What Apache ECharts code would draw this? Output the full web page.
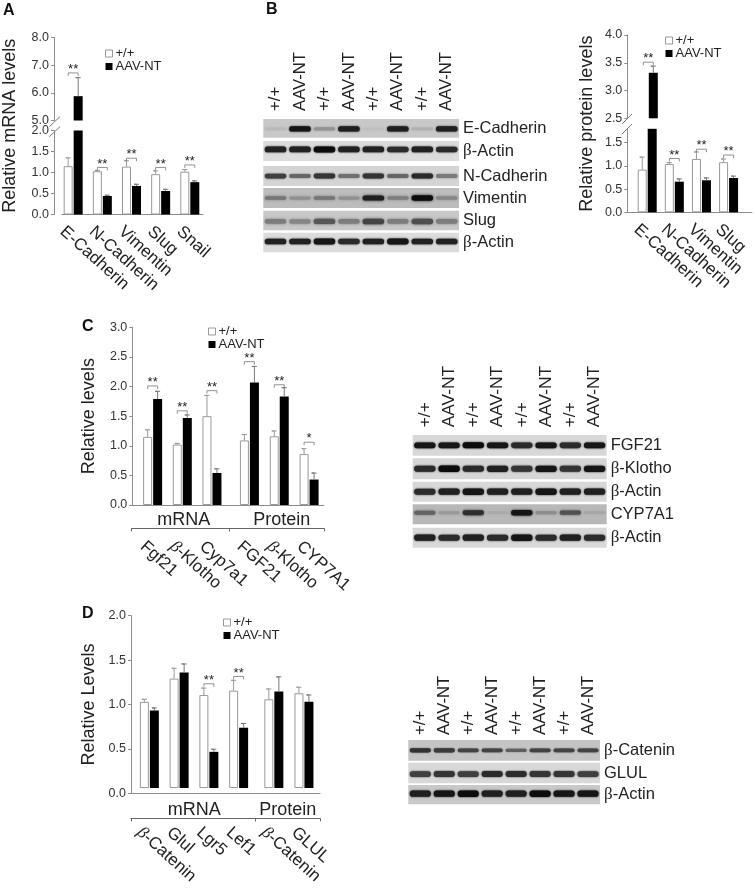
<!DOCTYPE html>
<html>
<head>
<meta charset="utf-8">
<title>Panels A-D</title>
<style>
  html, body { margin: 0; padding: 0; background: #fff; }
  #main { width: 755px; height: 892px; }
</style>
<script src="https://cdn.jsdelivr.net/npm/echarts@6/dist/echarts.min.js"></script>
</head>
<body>
<div id="main"></div>
<script>
// panel A
var catsA = ['E-Cadherin', 'N-Cadherin', 'Vimentin', 'Slug', 'Snail']
var whiteA = [1.15, 1.03, 1.14, 0.96, 1.02]
var whiteErrA = [0.20, 0.02, 0.14, 0.08, 0.05]
var blackA = [5.88, 0.44, 0.68, 0.56, 0.77]
var blackErrA = [0.67, 0.02, 0.04, 0.04, 0.03]
var sigA = ['**', '**', '**', '**', '**']
var sigYA = [6.72, 1.12, 1.34, 1.12, 1.18]
var ticksALow = [0, 0.5, 1, 1.5, 2]
var ticksAHigh = [5, 6, 7, 8]

// panel B, bars
var catsB = ['E-Cadherin', 'N-Cadherin', 'Vimentin', 'Slug']
var whiteB = [0.92, 1.04, 1.15, 1.08]
var whiteErrB = [0.27, 0.03, 0.15, 0.07]
var blackB = [3.32, 0.66, 0.69, 0.74]
var blackErrB = [0.12, 0.06, 0.05, 0.04]
var sigB = ['**', '**', '**', '**']
var sigYB = [3.51, 1.16, 1.36, 1.235]
var ticksBLow = [0, 0.5, 1, 1.5]
var ticksBHigh = [2.5, 3, 3.5, 4]

// panel C
var catsCm = ['Fgf21', 'β-Klotho', 'Cyp7a1']
var catsCp = ['FGF21', 'β-Klotho', 'CYP7A1']
var whiteCm = [1.15, 1.02, 1.50]
var whiteErrCm = [0.12, 0.02, 0.35]
var blackCm = [1.79, 1.47, 0.54]
var blackErrCm = [0.13, 0.05, 0.07]
var sigCm = ['**', '**', '**']
var sigYCm = [2.01, 1.59, 1.93]
var whiteCp = [1.09, 1.16, 0.86]
var whiteErrCp = [0.10, 0.09, 0.09]
var blackCp = [2.07, 1.83, 0.43]
var blackErrCp = [0.27, 0.15, 0.11]
var sigCp = ['**', '**', '*']
var sigYCp = [2.42, 2.03, 1.06]
var ticksC = [0, 0.5, 1, 1.5, 2, 2.5, 3]

// panel D
var catsDm = ['β-Catenin', 'Glul', 'Lgr5', 'Lef1']
var catsDp = ['β-Catenin', 'GLUL']
var whiteDm = [1.00, 1.27, 1.08, 1.13]
var whiteErrDm = [0.03, 0.12, 0.08, 0.12]
var blackDm = [0.90, 1.34, 0.42, 0.70]
var blackErrDm = [0.03, 0.10, 0.03, 0.05]
var sigDm = ['', '', '**', '**']
var sigYDm = [null, null, 1.21, 1.295]
var whiteDp = [1.03, 1.10]
var whiteErrDp = [0.12, 0.07]
var blackDp = [1.12, 1.00]
var blackErrDp = [0.17, 0.08]
var sigDp = ['', '']
var sigYDp = [null, null]
var ticksD = [0, 0.5, 1, 1.5, 2]

// blots: band darkness per lane
var lanes = ['+/+', 'AAV-NT', '+/+', 'AAV-NT', '+/+', 'AAV-NT', '+/+', 'AAV-NT']
var blotBecad = [0.08, 0.95, 0.28, 0.9, 0.05, 0.9, 0.12, 0.9]
var blotBactin1 = [0.9, 0.9, 1, 0.9, 0.9, 0.85, 0.9, 0.85]
var blotBncad = [0.75, 0.55, 0.8, 0.5, 0.8, 0.55, 0.85, 0.45]
var blotBvim = [0.4, 0.25, 0.4, 0.25, 0.9, 0.35, 1, 0.3]
var blotBslug = [0.4, 0.35, 0.6, 0.4, 0.7, 0.4, 0.65, 0.4]
var blotBactin2 = [0.9, 0.9, 0.95, 0.85, 0.9, 0.95, 0.9, 0.9]
var blotCfgf = [0.95, 0.95, 1, 0.95, 0.85, 0.95, 0.85, 0.95]
var blotCklotho = [0.85, 1, 0.85, 0.9, 0.8, 0.95, 0.8, 0.95]
var blotCactin1 = [0.85, 0.9, 0.95, 0.9, 0.9, 0.95, 0.9, 0.9]
var blotCcyp = [0.5, 0.18, 0.8, 0.08, 0.95, 0.25, 0.6, 0.1]
var blotCactin2 = [0.9, 0.85, 0.9, 0.85, 0.95, 0.85, 0.9, 0.85]
var blotDcat = [0.8, 0.75, 0.7, 0.7, 0.55, 0.7, 0.7, 0.7]
var blotDglul = [0.75, 0.8, 0.75, 0.85, 0.85, 0.8, 0.8, 0.75]
var blotDactin = [0.9, 0.95, 1, 0.9, 0.9, 1, 0.95, 0.95]

var FONT = 'Liberation Sans'
var TEXT = '#222'
var AXIS = '#8c8c8c'
var betaRich = { b: { fontFamily: 'Liberation Serif', fontSize: 17 } }
var betaItalic = { b: { fontFamily: 'Liberation Serif', fontStyle: 'italic', fontSize: 17 } }

var grids = []
var xAxes = []
var yAxes = []
var series = []
var graphics = []

function addGrid(left, top, width, height, xAxis, yAxis, extra) {
  grids.push(Object.assign({ left: left, top: top, width: width, height: height, containLabel: false }, extra || {}))
  var idx = grids.length - 1
  xAxes.push(Object.assign({ gridIndex: idx }, xAxis))
  yAxes.push(Object.assign({ gridIndex: idx }, yAxis))
  return idx
}

function tickAxis(min, max, ticks) {
  return {
    type: 'value', min: min, max: max,
    splitLine: { show: false },
    axisLine: { show: true, onZero: false, lineStyle: { color: AXIS } },
    axisTick: { show: true, length: 3, customValues: ticks, lineStyle: { color: AXIS } },
    axisLabel: {
      fontSize: 12.5, color: '#333', margin: 5, customValues: ticks,
      formatter: function (v) { return v.toFixed(1) }
    }
  }
}

// x baseline and the y title
function addFrame(left, top, width, height, yName, nameGap, yAxis) {
  addGrid(left, top, width, height, {
    type: 'value', min: 0, max: 1,
    splitLine: { show: false },
    axisLabel: { show: false }, axisTick: { show: false },
    axisLine: { show: true, onZero: false, lineStyle: { color: AXIS } }
  }, Object.assign({}, yAxis || {
    type: 'value', min: 0, max: 1, splitLine: { show: false },
    axisLine: { show: false }, axisTick: { show: false }, axisLabel: { show: false }
  }, {
    name: yName, nameLocation: 'middle', nameRotate: 90, nameGap: nameGap,
    nameTextStyle: { fontSize: 18, color: TEXT }
  }))
}

function errorItem(side) {
  return function (params, api) {
    var top = api.value(1) + api.value(2)
    var rect = params.coordSys
    var p0 = api.coord([api.value(0), api.value(1)])
    var p1 = api.coord([api.value(0), top])
    if (p1[1] < rect.y - 0.5 || p0[1] > rect.y + rect.height + 0.5 || isNaN(p0[1])) return
    var x = p0[0] + side * 5
    var y0 = Math.min(p0[1], rect.y + rect.height)
    var color = side < 0 ? '#999' : '#777'
    return {
      type: 'polyline', silent: true,
      shape: { points: [[x, y0], [x, p1[1]], [x - 2.5, p1[1]], [x + 2.5, p1[1]]] },
      style: { stroke: color, fill: null, lineWidth: 1 }
    }
  }
}

function sigItem(params, api) {
  var text = api.value(2)
  if (!text) return
  var rect = params.coordSys
  var p = api.coord([api.value(0), api.value(1)])
  if (isNaN(p[1]) || p[1] < rect.y || p[1] > rect.y + rect.height) return
  return {
    type: 'group', silent: true,
    children: [{
      type: 'polyline',
      shape: { points: [[p[0] - 5, p[1] + 3], [p[0] - 5, p[1]], [p[0] + 5, p[1]], [p[0] + 5, p[1] + 3]] },
      style: { stroke: '#777', fill: null, lineWidth: 0.8 }
    }, {
      type: 'text',
      style: { x: p[0], y: p[1] + 3, text: text, align: 'center', verticalAlign: 'bottom', fill: TEXT, font: '13px ' + FONT }
    }]
  }
}

// one set of grouped bars in its own grid; bars outside min..max are clipped
function addBars(left, top, width, height, cats, d, min, max, yAxis, xLabel) {
  var inRange = function (v) { return v >= min ? v : null }
  var g = addGrid(left, top, width, height, {
    type: 'category', data: cats, show: !!xLabel,
    axisLine: { show: false, onZero: false }, axisTick: { show: false },
    axisLabel: xLabel
  }, yAxis || { type: 'value', min: min, max: max, show: false, splitLine: { show: false } })
  var bars = function (name, vals, style) {
    series.push({
      type: 'bar', name: name, xAxisIndex: g, yAxisIndex: g,
      data: vals.map(inRange), barWidth: 9, barGap: '11%', itemStyle: style, animation: false, silent: true
    })
  }
  bars('+/+', d.white, { color: '#fff', borderColor: '#999', borderWidth: 1 })
  bars('AAV-NT', d.black, { color: '#000' })
  var custom = function (fn, rows) {
    series.push({
      type: 'custom', xAxisIndex: g, yAxisIndex: g, renderItem: fn, data: rows,
      encode: { x: 0, y: 1 }, z: 5, silent: true, animation: false
    })
  }
  custom(errorItem(-1), d.white.map(function (v, i) { return [i, v, d.whiteErr[i]] }))
  custom(errorItem(1), d.black.map(function (v, i) { return [i, v, d.blackErr[i]] }))
  custom(sigItem, d.sig.map(function (s, i) { return [i, d.sigY[i], s] }))
}

function catLabel(margin, lineHeight, size) {
  return {
    rotate: -42, interval: 0, align: 'left', verticalAlign: 'top', hideOverlap: false,
    margin: margin, lineHeight: lineHeight, fontSize: size, color: TEXT, rich: betaItalic,
    formatter: function (v) { return v.replace('β', '{b|β}') }
  }
}

// mRNA / Protein bracket below the bars
function addSection(left, top, width, height, name, shift) {
  addGrid(left, top, width, height, {
    type: 'category', data: [name],
    axisLine: { show: true, onZero: false, lineStyle: { color: '#666' } },
    axisTick: { show: true, length: 3, lineStyle: { color: '#666' } },
    axisLabel: { inside: true, margin: -1, fontSize: 18, color: TEXT, interval: 0, padding: [0, 0, 0, shift || 0] }
  }, { type: 'value', min: 0, max: 1, show: false, splitLine: { show: false } })
}

function bandItem(strip) {
  return function (params, api) {
    var p = api.coord([api.value(0), strip.name])
    var rect = params.coordSys
    var d = api.value(1)
    var w = api.size([1, 0])[0] * 0.88
    var h = strip.thick + d * 3
    var y = rect.y + rect.height * strip.pos
    var v = Math.round(strip.level - d * (strip.level - 12))
    var c = 'rgb(' + v + ',' + v + ',' + v + ')'
    return {
      type: 'rect', silent: true,
      shape: { x: p[0] - w / 2, y: y - h / 2, width: w, height: h, r: h / 2 },
      style: { fill: c, shadowColor: c, shadowBlur: strip.blur }
    }
  }
}

function addStrip(left, top, width, height, strip, labels, labelSize) {
  var g = addGrid(left, top, width, height, {
    type: 'category', data: lanes, position: 'top', show: !!labels,
    axisLine: { show: false }, axisTick: { show: false },
    // the sign of rotate is mirrored on a top axis
    axisLabel: {
      rotate: -90, align: 'left', verticalAlign: 'middle', interval: 0, hideOverlap: false,
      margin: labels, fontSize: labelSize, color: TEXT
    }
  }, {
    type: 'category', data: [strip.name], position: 'right',
    axisLine: { show: false }, axisTick: { show: false },
    axisLabel: {
      margin: 4, fontSize: 16.5, color: TEXT, rich: betaRich,
      formatter: function (v) { return v.replace('β', '{b|β}') }
    }
  }, { show: true, backgroundColor: strip.bg, borderWidth: 0 })
  series.push({
    type: 'custom', xAxisIndex: g, yAxisIndex: g, renderItem: bandItem(strip),
    data: strip.values.map(function (v, i) { return [i, v] }),
    encode: { x: 0 }, silent: true, animation: false, clip: true
  })
}

function strip(name, values, bg, pos, thick, blur) {
  var level = parseInt(bg.slice(1, 3), 16)
  return { name: name, values: values, bg: bg, level: level, pos: pos, thick: thick, blur: blur }
}

function slash(x1, y1, x2, y2) {
  graphics.push({
    type: 'line', silent: true,
    shape: { x1: x1, y1: y1, x2: x2, y2: y2 },
    style: { stroke: '#777', lineWidth: 1 }
  })
}

function legendAt(left, top) {
  return {
    data: ['+/+', 'AAV-NT'], left: left, top: top, orient: 'vertical', padding: 0,
    itemWidth: 7, itemHeight: 7, itemGap: 0, selectedMode: false,
    icon: 'rect', itemStyle: { borderWidth: 1 },
    textStyle: { fontSize: 13, color: TEXT, padding: [0, 0, 0, -2] }
  }
}

// ---- panel A
var dataA = { white: whiteA, whiteErr: whiteErrA, black: blackA, blackErr: blackErrA, sig: sigA, sigY: sigYA }
addFrame(54, 37, 149, 177.5, 'Relative mRNA levels', 43)
addBars(58.6, 130.5, 145.8, 84, catsA, dataA, 0, 2, null, catLabel(3, 32, 17))
yAxes[yAxes.length - 1] = Object.assign(tickAxis(0, 2, ticksALow), { gridIndex: grids.length - 1, offset: 4.6 })
addBars(58.6, 37.5, 145.8, 83, catsA, dataA, 5, 8)
yAxes[yAxes.length - 1] = Object.assign(tickAxis(5, 8, ticksAHigh), { gridIndex: grids.length - 1, offset: 4.6 })
slash(49.3, 126.7, 60, 116.7)
slash(49.3, 136.7, 60, 126.7)

// ---- panel B bars
var dataB = { white: whiteB, whiteErr: whiteErrB, black: blackB, blackErr: blackErrB, sig: sigB, sigY: sigYB }
addFrame(627.3, 35, 124.7, 177.3, 'Relative protein levels', 31)
addBars(633.65, 128.8, 117.2, 83.5, catsB, dataB, 0, 1.8, null, catLabel(3, 32, 17))
yAxes[yAxes.length - 1] = Object.assign(tickAxis(0, 1.8, ticksBLow), { gridIndex: grids.length - 1, offset: 6.35 })
addBars(633.65, 35, 117.2, 83.3, catsB, dataB, 2.5, 4)
yAxes[yAxes.length - 1] = Object.assign(tickAxis(2.5, 4, ticksBHigh), { gridIndex: grids.length - 1, offset: 6.35 })
slash(622, 124, 632, 114)
slash(622, 134, 632, 124)

// ---- panel C bars
addFrame(132.3, 327.3, 191.7, 177.7, 'Relative levels', 34, tickAxis(0, 3, ticksC))
addBars(137.8, 327.3, 89, 177.7, catsCm,
  { white: whiteCm, whiteErr: whiteErrCm, black: blackCm, blackErr: blackErrCm, sig: sigCm, sigY: sigYCm },
  0, 3, null, catLabel(28, 30, 17))
addBars(234.5, 327.3, 89.5, 177.7, catsCp,
  { white: whiteCp, whiteErr: whiteErrCp, black: blackCp, blackErr: blackErrCp, sig: sigCp, sigY: sigYCp },
  0, 3, null, catLabel(28, 30, 17))
addSection(131.7, 505, 98, 23.3, 'mRNA', 6)
addSection(229.7, 505, 94.3, 23.3, 'Protein', 10)

// ---- panel D bars
addFrame(131, 615.7, 189, 177.6, 'Relative Levels', 33, tickAxis(0, 2, ticksD))
addBars(134.5, 615.7, 119, 177.6, catsDm,
  { white: whiteDm, whiteErr: whiteErrDm, black: blackDm, blackErr: blackErrDm, sig: sigDm, sigY: sigYDm },
  0, 2, null, catLabel(31, 30, 17))
addBars(258.8, 615.7, 60.2, 177.6, catsDp,
  { white: whiteDp, whiteErr: whiteErrDp, black: blackDp, blackErr: blackErrDp, sig: sigDp, sigY: sigYDp },
  0, 2, null, catLabel(31, 30, 17))
addSection(131, 793.3, 124.7, 25, 'mRNA', 2)
addSection(255.7, 793.3, 64.3, 25, 'Protein')

// ---- blots
addStrip(263.3, 119, 195.7, 18.7, strip('E-Cadherin', blotBecad, '#c8c8c8', 0.53, 2.5, 2), 8, 16.7)
addStrip(263.3, 141, 195.7, 20, strip('β-Actin', blotBactin1, '#dcdcdc', 0.42, 3, 2))
addStrip(263.3, 166, 195.7, 20, strip('N-Cadherin', blotBncad, '#d4d4d4', 0.5, 2.5, 2))
addStrip(263.3, 188, 195.7, 20, strip('Vimentin', blotBvim, '#bcbcbc', 0.5, 2.5, 3))
addStrip(263.3, 210.7, 195.7, 19.5, strip('Slug', blotBslug, '#c8c8c8', 0.55, 3.5, 3))
addStrip(263.3, 232.7, 195.7, 19.6, strip('β-Actin', blotBactin2, '#dcdcdc', 0.45, 3, 2))

addStrip(412.7, 435, 194, 20.7, strip('FGF21', blotCfgf, '#d8d8d8', 0.5, 3, 2), 7.7, 17.4)
addStrip(412.7, 458.3, 194, 21, strip('β-Klotho', blotCklotho, '#d6d6d6', 0.5, 3.5, 2))
addStrip(412.7, 481.7, 194, 20, strip('β-Actin', blotCactin1, '#d8d8d8', 0.5, 3.5, 2))
addStrip(412.7, 504.3, 194, 20, strip('CYP7A1', blotCcyp, '#b8b8b8', 0.42, 2.5, 2.5))
addStrip(412.7, 527.7, 194, 20, strip('β-Actin', blotCactin2, '#d8d8d8', 0.5, 3.5, 2))

addStrip(408.3, 740, 191.7, 20.7, strip('β-Catenin', blotDcat, '#c4c4c4', 0.5, 1.8, 1.5), 5, 16.8)
addStrip(408.3, 762.7, 191.7, 20.6, strip('GLUL', blotDglul, '#d8d8d8', 0.55, 3.5, 2))
addStrip(408.3, 785, 191.7, 19.3, strip('β-Actin', blotDactin, '#c8c8c8', 0.45, 3.5, 2))

var letter = function (t, left, top) {
  return { text: t, left: left, top: top, padding: 0, textStyle: { fontSize: 16, fontWeight: 'bold', color: '#111' } }
}

var chart = echarts.init(document.getElementById('main'), null, { renderer: 'canvas' })
chart.setOption({
  animation: false,
  backgroundColor: '#fff',
  textStyle: { fontFamily: FONT },
  title: [letter('A', 3, 3), letter('B', 266, 2), letter('C', 82, 319), letter('D', 82, 606)],
  legend: [legendAt(105, 47), legendAt(665, 34), legendAt(208, 325), legendAt(223, 616)],
  grid: grids,
  xAxis: xAxes,
  yAxis: yAxes,
  series: series,
  graphic: graphics
})
</script>
</body>
</html>
